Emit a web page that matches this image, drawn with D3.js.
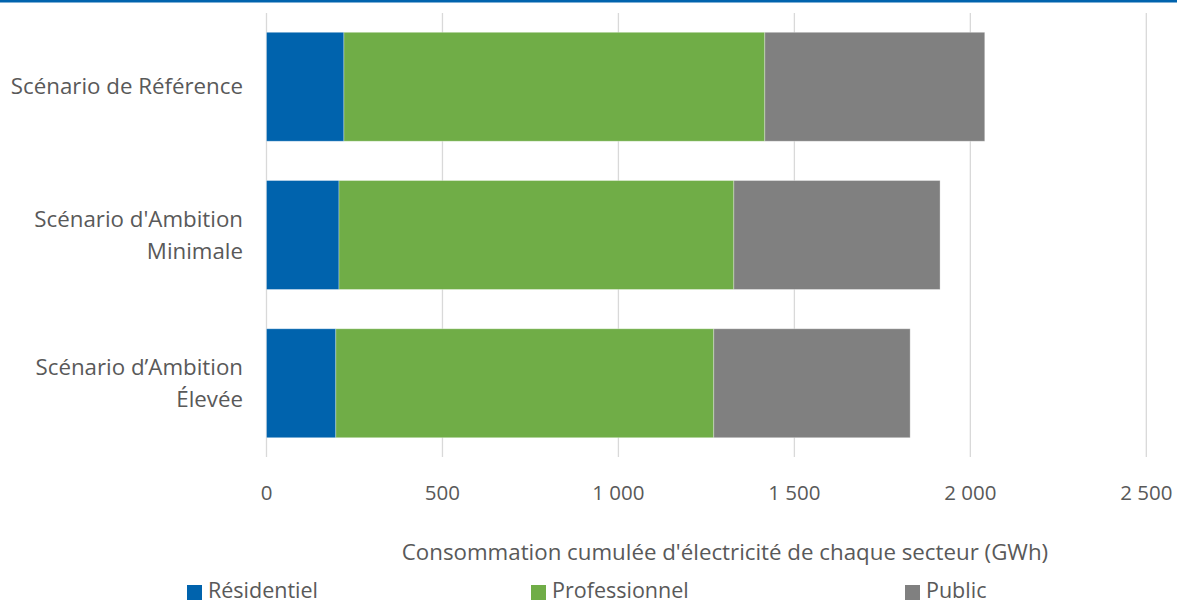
<!DOCTYPE html>
<html>
<head>
<meta charset="utf-8">
<style>
  body { margin: 0; background: #fff; }
  svg text { font-family: "Open Sans", Lato, sans-serif; fill: #595959; font-variant-ligatures: none; }
</style>
<script src="https://cdnjs.cloudflare.com/ajax/libs/d3/7.8.5/d3.min.js"></script>
</head>
<body>
<script>
const categories = [["Scénario de Référence"], ["Scénario d'Ambition", "Minimale"], ["Scénario d\u2019Ambition", "Élevée"]];
const seriesNames = ["Résidentiel", "Professionnel", "Public"];
const residentiel = [220, 206, 197];
const professionnel = [1196, 1122, 1074];
const publicSect = [625, 586, 558];
const xTicks = [0, 500, 1000, 1500, 2000, 2500];
const colors = ["#0063AD", "#70AD47", "#808080"];

const w = 1177, h = 605;
const margin = {left: 266.5, right: 30.7, top: 13, bottom: 148};

const svg = d3.select("body").append("svg").attr("width", w).attr("height", h);

// top blue rule
svg.append("rect").attr("x", 0).attr("y", 0).attr("width", w).attr("height", 2.5).attr("fill", "#0063AD");

const rows = categories.map((c, i) => ({key: i, Résidentiel: residentiel[i], Professionnel: professionnel[i], Public: publicSect[i]}));
const stack = d3.stack().keys(seriesNames)(rows);

const x = d3.scaleLinear().domain([0, 2500]).range([margin.left, w - margin.right]);
const y = d3.scaleBand().domain(d3.range(categories.length)).range([margin.top, h - margin.bottom]).paddingInner(0.265).paddingOuter(0.13);

// gridlines
svg.append("g").selectAll("line").data(xTicks).enter().append("line")
  .attr("x1", d => x(d)).attr("x2", d => x(d))
  .attr("y1", margin.top).attr("y2", h - margin.bottom)
  .attr("stroke", "#d9d9d9").attr("stroke-width", 1.3);

// bars
svg.append("g").selectAll("g").data(stack).enter().append("g")
  .attr("fill", (d, i) => colors[i])
  .selectAll("rect").data(d => d).enter().append("rect")
  .attr("x", d => x(d[0]))
  .attr("width", d => x(d[1]) - x(d[0]))
  .attr("y", (d, i) => y(i))
  .attr("height", y.bandwidth())
  .attr("stroke", "#fff").attr("stroke-opacity", 0.4).attr("stroke-width", 0.8);

// x tick labels
const fmt = v => d3.format(",")(v).replace(/,/g, "\u00a0");
svg.append("g").selectAll("text").data(xTicks).enter().append("text")
  .attr("x", d => x(d)).attr("y", 500)
  .attr("text-anchor", "middle").attr("font-size", 20.5)
  .text(d => fmt(d));

// category labels
categories.forEach((lines, i) => {
  const cy = y(i) + y.bandwidth() / 2;
  const lh = 32;
  const t = svg.append("text").attr("text-anchor", "end").attr("font-size", 22.3);
  lines.forEach((ln, j) => {
    t.append("tspan").attr("x", 243)
      .attr("y", cy + (j - (lines.length - 1) / 2) * lh + 7.5)
      .text(ln);
  });
});

// axis title
svg.append("text").attr("x", 725).attr("y", 560).attr("text-anchor", "middle").attr("font-size", 22.3)
  .text("Consommation cumulée d'électricité de chaque secteur (GWh)");

// legend
const legX = [187, 531, 905];
seriesNames.forEach((s, i) => {
  svg.append("rect").attr("x", legX[i]).attr("y", 585).attr("width", 15).attr("height", 15).attr("fill", colors[i]);
  svg.append("text").attr("x", legX[i] + 21).attr("y", 598).attr("font-size", 21.5).text(s);
});
</script>
</body>
</html>
